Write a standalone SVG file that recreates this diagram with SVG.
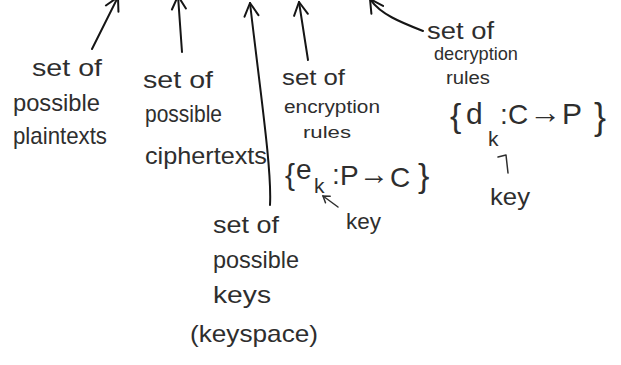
<svg xmlns="http://www.w3.org/2000/svg" width="621" height="365" viewBox="0 0 621 365">
<style>
.t{font-family:"Liberation Sans",Arial,sans-serif;fill:#2e2e2e}
.l{fill:none;stroke:#151515;stroke-width:2;stroke-linecap:round;stroke-linejoin:round}
.s{fill:none;stroke:#2e2e2e;stroke-width:1.5;stroke-linecap:round;stroke-linejoin:round}
</style>
<defs>
<marker id="ah" markerUnits="userSpaceOnUse" markerWidth="30" markerHeight="30" refX="0" refY="0" viewBox="-15 -15 30 30" orient="auto" overflow="visible">
<path d="M -13 -7 L 0 0 L -13 7" fill="none" stroke="#151515" stroke-width="2" stroke-linecap="round" stroke-linejoin="round"/>
</marker>
<marker id="sh" markerUnits="userSpaceOnUse" markerWidth="16" markerHeight="16" refX="0" refY="0" viewBox="-8 -8 16 16" orient="auto" overflow="visible">
<path d="M -6 -4 L 0 0 L -6 4" fill="none" stroke="#2e2e2e" stroke-width="1.5" stroke-linecap="round"/>
</marker>
</defs>
<rect width="621" height="365" fill="#ffffff"/>
<g id="connectors">
<path class="l" d="M 92 49 L 118 -3" marker-end="url(#ah)"/>
<path class="l" d="M 182 52 L 178 -4" marker-end="url(#ah)"/>
<path class="l" d="M 270 205 C 272 170 260 90 250 3" marker-end="url(#ah)"/>
<path class="l" d="M 308 60 L 299 2" marker-end="url(#ah)"/>
<path class="l" d="M 423 31 C 400 22 380 14 370 -1" marker-end="url(#ah)"/>
<path class="s" d="M 338 207 L 323 196" marker-end="url(#sh)"/>
<path class="s" d="M 498 157 L 506 155 L 508 173"/>
</g>
<g id="plaintexts">
<text class="t" x="32" y="76" font-size="24" textLength="70" lengthAdjust="spacingAndGlyphs">set of</text>
<text class="t" x="13" y="111" font-size="24" textLength="87" lengthAdjust="spacingAndGlyphs">possible</text>
<text class="t" x="13" y="144" font-size="24" textLength="94" lengthAdjust="spacingAndGlyphs">plaintexts</text>
</g>
<g id="ciphertexts">
<text class="t" x="143" y="88" font-size="24" textLength="70" lengthAdjust="spacingAndGlyphs">set of</text>
<text class="t" x="145" y="122" font-size="24" textLength="77" lengthAdjust="spacingAndGlyphs">possible</text>
<text class="t" x="145" y="164" font-size="24" textLength="122" lengthAdjust="spacingAndGlyphs">ciphertexts</text>
</g>
<g id="encryption">
<text class="t" x="282" y="85" font-size="22" textLength="63" lengthAdjust="spacingAndGlyphs">set of</text>
<text class="t" x="284" y="113" font-size="18" textLength="96" lengthAdjust="spacingAndGlyphs">encryption</text>
<text class="t" x="303" y="138" font-size="17" textLength="48" lengthAdjust="spacingAndGlyphs">rules</text>
<text class="t" font-size="30"><tspan x="285" y="185">{</tspan><tspan x="296" y="179" font-size="28">e</tspan><tspan x="314" y="193" font-size="21">k</tspan><tspan x="332" y="184" font-size="28">:</tspan><tspan x="340" y="185" font-size="28">P</tspan><tspan x="359" y="184" font-size="30">→</tspan><tspan x="390" y="187" font-size="28">C</tspan><tspan x="418" y="187" font-size="34">}</tspan></text>
<text class="t" x="346" y="229" font-size="22" textLength="35" lengthAdjust="spacingAndGlyphs">key</text>
</g>
<g id="keys">
<text class="t" x="213" y="233" font-size="24" textLength="66" lengthAdjust="spacingAndGlyphs">set of</text>
<text class="t" x="213" y="268" font-size="24" textLength="86" lengthAdjust="spacingAndGlyphs">possible</text>
<text class="t" x="213" y="303" font-size="24" textLength="58" lengthAdjust="spacingAndGlyphs">keys</text>
<text class="t" x="190" y="342" font-size="24" textLength="128" lengthAdjust="spacingAndGlyphs">(keyspace)</text>
</g>
<g id="decryption">
<text class="t" x="427" y="39" font-size="23" textLength="67" lengthAdjust="spacingAndGlyphs">set of</text>
<text class="t" x="434" y="60" font-size="19" textLength="84" lengthAdjust="spacingAndGlyphs">decryption</text>
<text class="t" x="446" y="84" font-size="18" textLength="44" lengthAdjust="spacingAndGlyphs">rules</text>
<text class="t" font-size="30"><tspan x="450" y="127" font-size="34">{</tspan><tspan x="466" y="124">d</tspan><tspan x="488" y="146" font-size="21">k</tspan><tspan x="500" y="124" font-size="28">:</tspan><tspan x="508" y="124" font-size="28">C</tspan><tspan x="529" y="123" font-size="32">→</tspan><tspan x="562" y="124" font-size="30">P</tspan><tspan x="594" y="129" font-size="36">}</tspan></text>
<text class="t" x="490" y="205" font-size="24" textLength="40" lengthAdjust="spacingAndGlyphs">key</text>
</g>
</svg>
